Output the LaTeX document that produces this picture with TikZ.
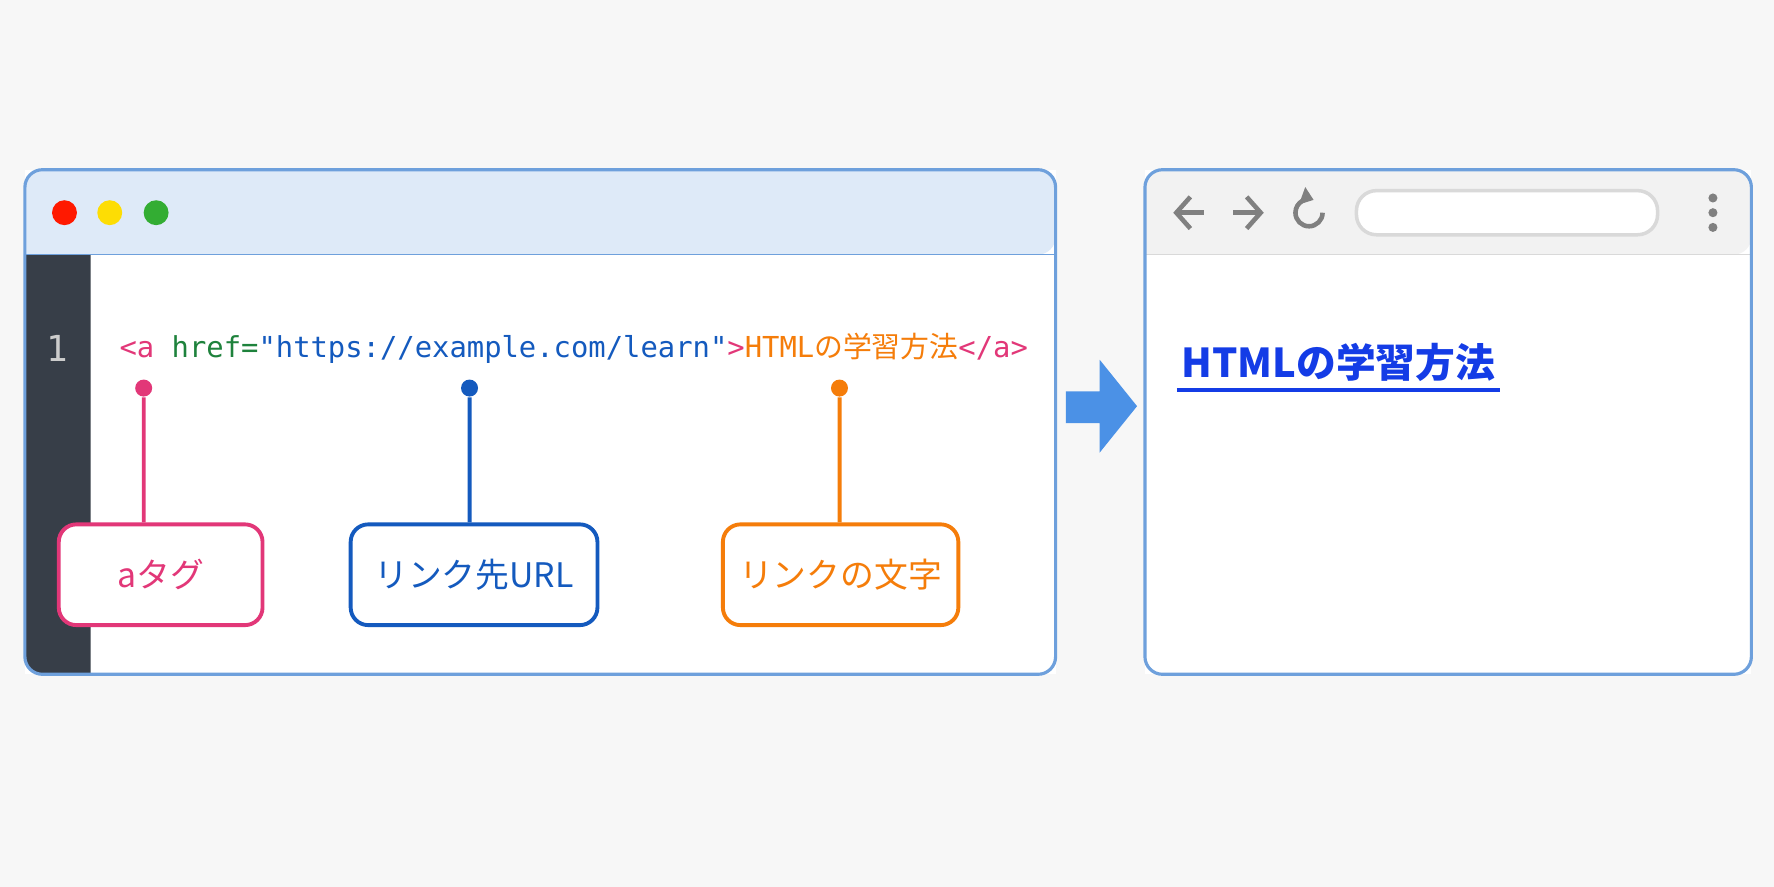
\documentclass[tikz,border=0pt]{standalone}
\usepackage{fontspec}
\setmainfont{Noto Sans CJK JP}
\newfontfamily\cjk{Noto Sans CJK JP}
\newfontfamily\codefont{DejaVu Sans Mono}
\usetikzlibrary{positioning,arrows.meta,shapes.arrows}
\definecolor{frameblue}{RGB}{110,160,220}
\definecolor{barblue}{RGB}{222,234,248}
\definecolor{gutter}{RGB}{55,62,72}
\definecolor{tagpink}{RGB}{226,55,120}
\definecolor{attrgreen}{RGB}{30,130,60}
\definecolor{urlblue}{RGB}{20,90,190}
\definecolor{textorange}{RGB}{245,125,10}
\definecolor{linkblue}{RGB}{20,60,230}
\definecolor{arrowblue}{RGB}{75,145,230}

\begin{document}
\begin{tikzpicture}[x=0.01cm,y=-0.01cm,
    scale=1.1314, transform shape,
    pin/.style={circle, fill=#1, inner sep=0pt, minimum size=0.15cm},
    callout/.style={draw=#1, line width=1.1pt, rounded corners=5pt, fill=white, text=#1, font=\fontsize{8.5}{10}\selectfont},
    dot/.style={circle, fill=#1, inner sep=0pt, minimum size=0.22cm},
    icon/.style={gray, line width=1.3pt}
]
\useasboundingbox (0,0) rectangle (1568,784);
\fill[white!97!black] (0,0) rectangle (1568,784);

% Editor window
\fill[white] (22,150) rectangle (933,596);
\fill[barblue,rounded corners=5pt] (22,225) -- (22,150) -- (933,150) -- (933,225) [sharp corners]-- cycle;
\fill[gutter] (22,225) -- (80,225) -- (80,596) [rounded corners=5pt] -- (22,596) [sharp corners] -- cycle;
\draw[frameblue] (22,225) -- (933,225);
\draw[frameblue, line width=0.9pt, rounded corners=5pt] (22,150) rectangle (933,596);
\node[dot={red!80!orange}] (red) at (57,188) {};
\node[dot={yellow!80!orange}] (yellow) at (97,188) {};
\node[dot={green!60!black!80}] (green) at (138,188) {};

% Code line
\node[text=gray!40, font=\codefont\fontsize{9}{11}\selectfont] (num) at (51,308) {1};
\node[anchor=west, inner sep=0pt, font=\codefont\fontsize{7.25}{10}\selectfont] (code) at (105,308)
  {\textcolor{tagpink}{<a} \textcolor{attrgreen}{href=}\textcolor{urlblue}{"https://example.com/learn"}\textcolor{tagpink}{>}\textcolor{textorange}{HTML{\cjk の学習方法}}\textcolor{tagpink}{</a>}};

% Callouts
\node[pin=tagpink] (p1) at (127,343) {};
\node[pin=urlblue] (p2) at (415,343) {};
\node[pin=textorange] (p3) at (742,343) {};
\node[callout=tagpink, minimum width=1.8cm, minimum height=0.89cm] (tag) at (142,508) {aタグ};
\node[callout=urlblue, minimum width=2.18cm, minimum height=0.89cm] (url) at (419,508) {リンク先URL};
\node[callout=textorange, minimum width=2.08cm, minimum height=0.89cm] (txt) at (743,508) {リンクの文字};
\draw[tagpink, line width=1.1pt] (p1) -- (p1 |- tag.north);
\draw[urlblue, line width=1.1pt] (p2) -- (p2 |- url.north);
\draw[textorange, line width=1.1pt] (p3) -- (p3 |- txt.north);

% Arrow
\fill[arrowblue] (942,346) -- (972,346) -- (972,318) -- (1005,359) -- (972,400) -- (972,374) -- (942,374) -- cycle;

% Browser window
\fill[white] (1012,150) rectangle (1548,596);
\fill[gray!10,rounded corners=5pt] (1012,225) -- (1012,150) -- (1548,150) -- (1548,225) [sharp corners]-- cycle;
\draw[gray!30] (1012,225) -- (1548,225);
\draw[frameblue, line width=0.9pt, rounded corners=5pt] (1012,150) rectangle (1548,596);
\draw[icon, -{Straight Barb[length=4pt,width=9pt]}] (1064,188) -- (1037,188);
\draw[icon, -{Straight Barb[length=4pt,width=9pt]}] (1090,188) -- (1117,188);
\draw[icon, -{Triangle[length=3.5pt,width=5pt]}] (1169,188) arc[start angle=0, end angle=290, radius=12];
\node[draw=gray!30, fill=white, line width=1pt, rounded corners=0.2cm, minimum width=2.66cm, minimum height=0.39cm] (addr) at (1332,188) {};
\foreach \yy in {175,188,201} \fill[gray] (1514,\yy) circle (0.04cm);
\node[anchor=west, inner sep=1pt, text=linkblue, font=\bfseries\fontsize{10}{12}\selectfont] (link) at (1040,320) {HTMLの学習方法};
\draw[linkblue, line width=1.3pt] ([yshift=-1pt]link.south west) -- ([yshift=-1pt]link.south east);
\end{tikzpicture}
\end{document}
